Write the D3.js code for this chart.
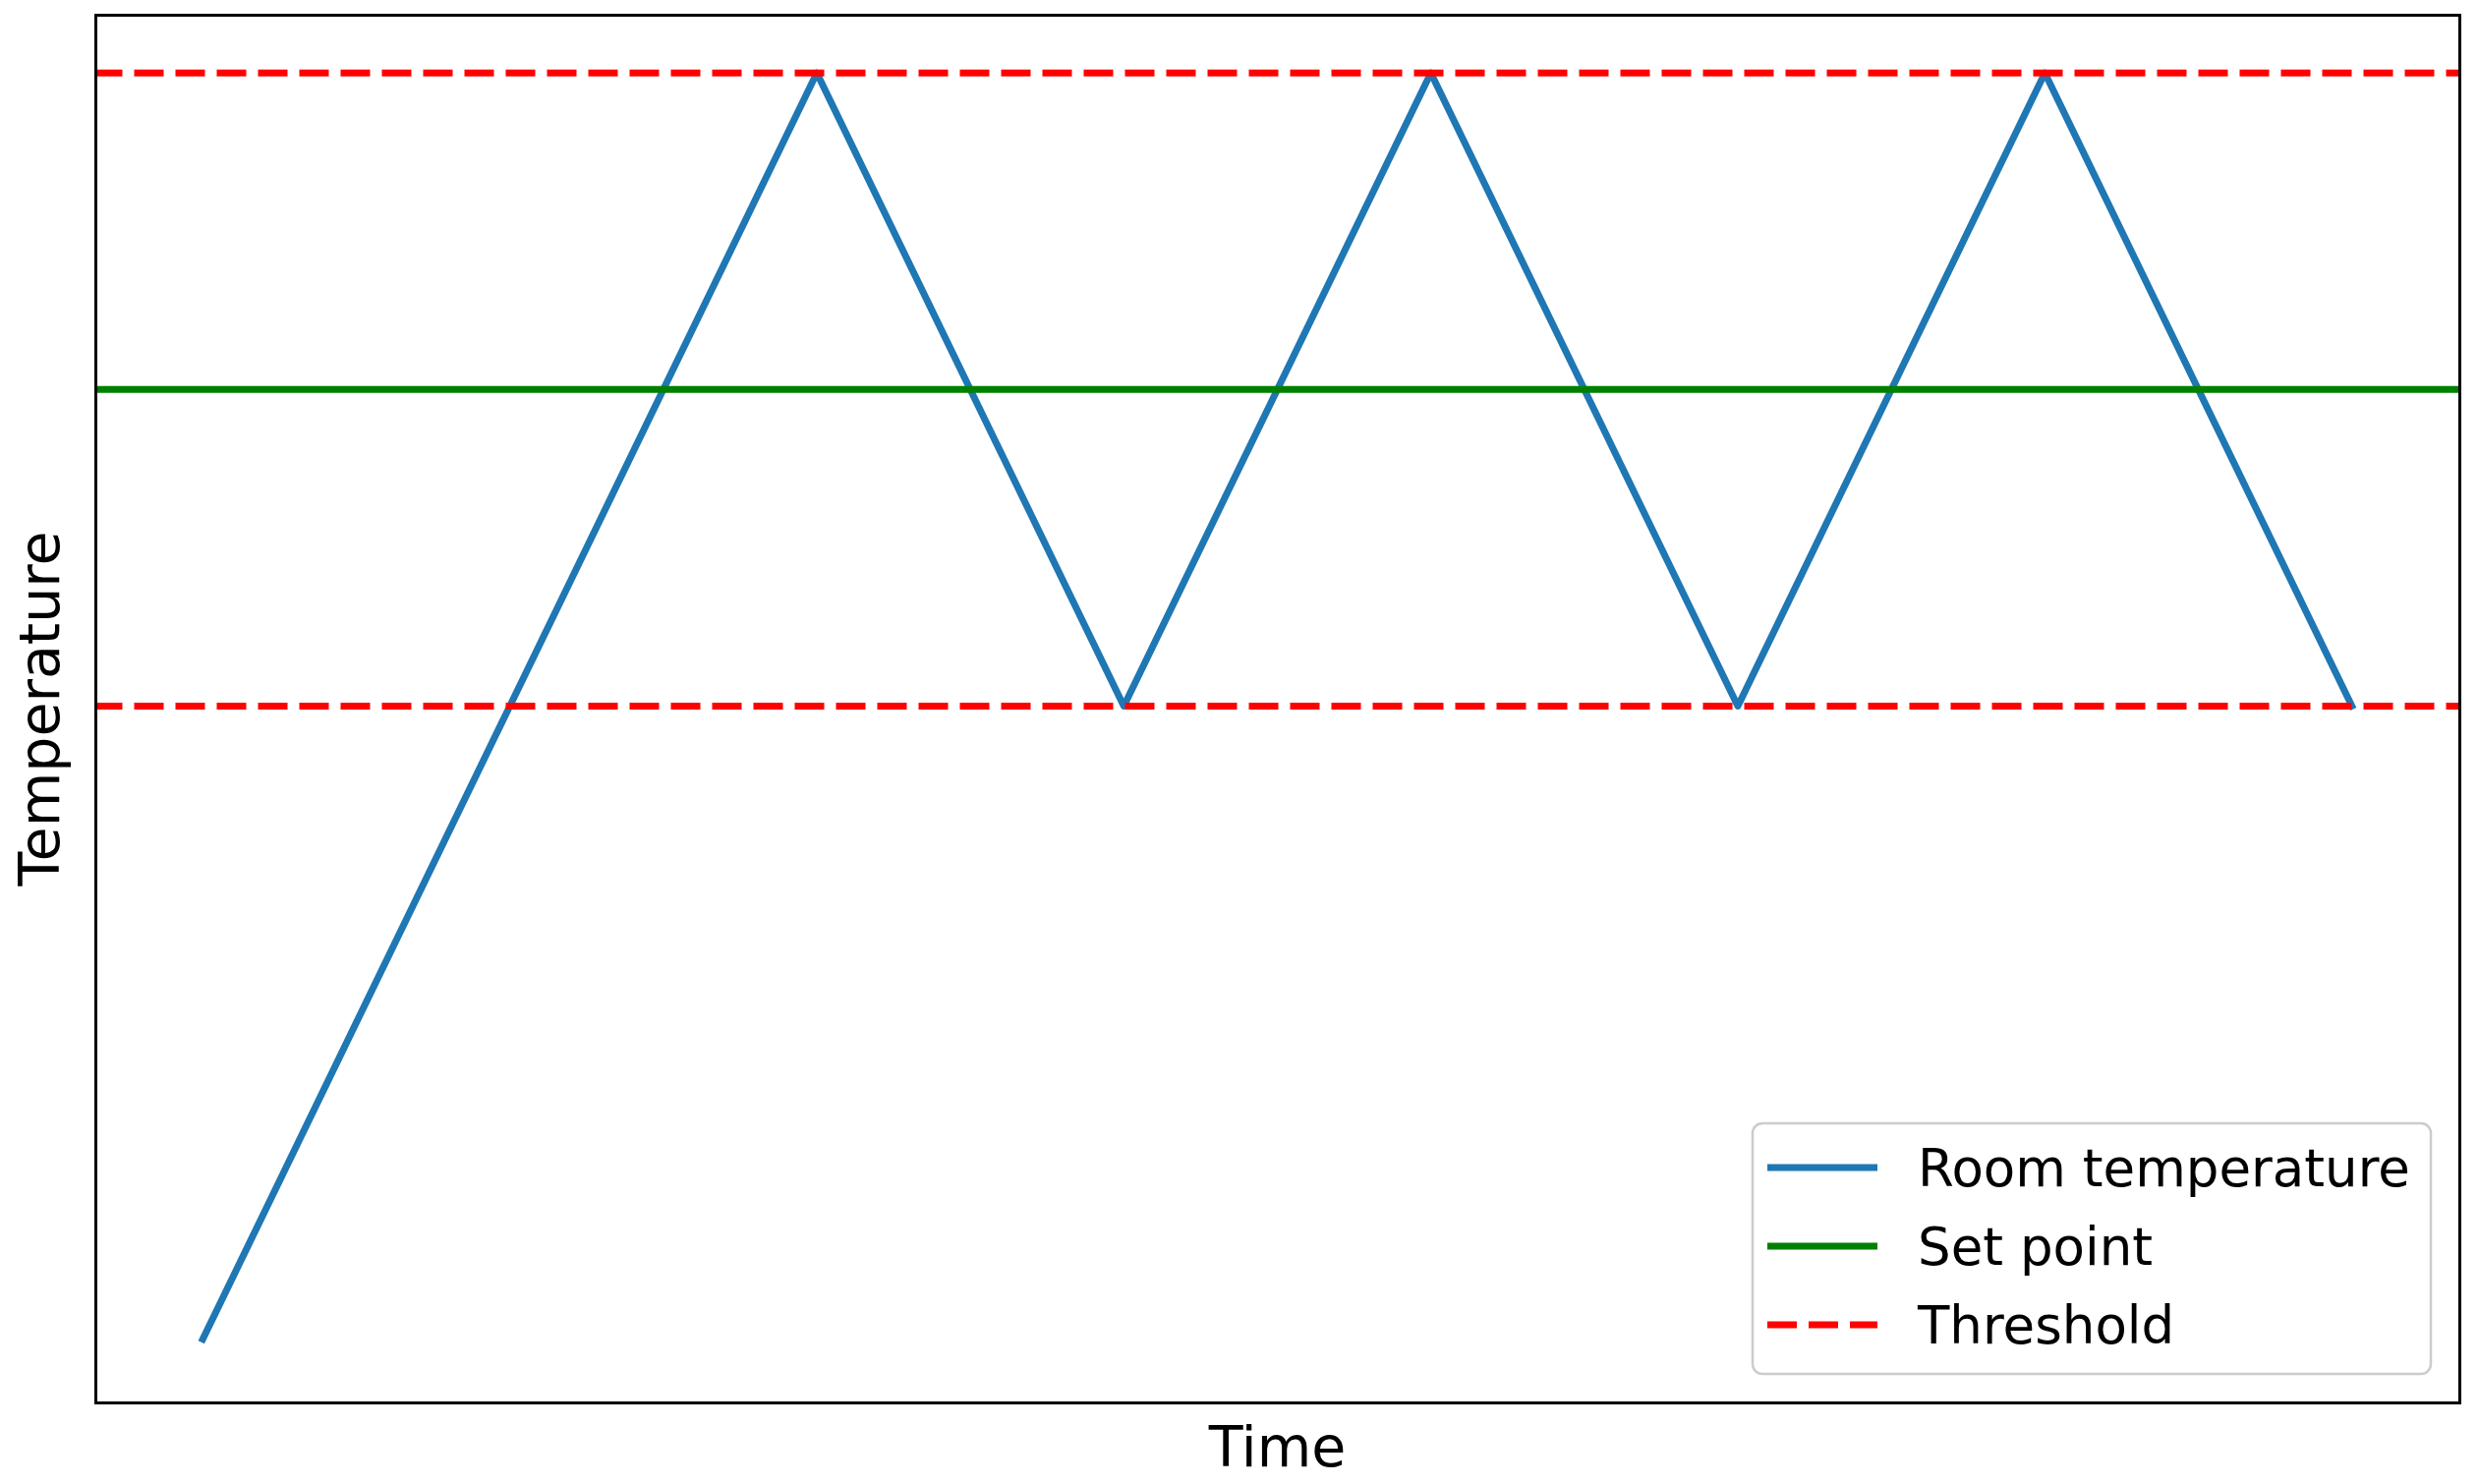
<!DOCTYPE html>
<html>
<head>
<meta charset="utf-8">
<script src="https://cdn.jsdelivr.net/npm/d3@7"></script>
<style>
  html, body { margin: 0; padding: 0; background: #ffffff; }
  svg { display: block; }
  text { font-family: "DejaVu Sans", sans-serif; fill: #000; }
</style>
</head>
<body>
<svg id="chart" width="2521" height="1510"></svg>
<script>
// ---- data ----
const times = [0, 2, 3, 4, 5, 6, 7];
const roomTemp = [15, 25, 20, 25, 20, 25, 20];
const setPoint = [22.5];
const thresholds = [20, 25];
const seriesLabels = ["Room temperature", "Set point", "Threshold"];
const xLabel = "Time";
const yLabel = "Temperature";

// ---- layout ----
const W = 2521, H = 1510;
const plot = { left: 97, right: 2502, top: 15, bottom: 1427 };
const colors = { room: "#1f77b4", set: "#008000", thr: "#ff0000" };
const lw = 7;
const dash = "30,12";

const svg = d3.select("#chart");

const x = d3.scaleLinear().domain([-0.35, 7.35]).range([plot.left, plot.right]);
const y = d3.scaleLinear().domain([14.5, 25.46]).range([plot.bottom, plot.top]);

const g = svg.append("g");

// threshold lines (axhline style across full width)
g.selectAll("line.thr").data(thresholds).enter().append("line")
  .attr("class", "thr")
  .attr("x1", plot.left).attr("x2", plot.right)
  .attr("y1", d => y(d)).attr("y2", d => y(d))
  .attr("stroke", colors.thr).attr("stroke-width", lw)
  .attr("stroke-dasharray", dash).attr("stroke-dashoffset", 2.5);

// set point
g.selectAll("line.sp").data(setPoint).enter().append("line")
  .attr("class", "sp")
  .attr("x1", plot.left).attr("x2", plot.right)
  .attr("y1", d => y(d)).attr("y2", d => y(d))
  .attr("stroke", colors.set).attr("stroke-width", lw);

// room temperature
const pts = times.map((t, i) => [t, roomTemp[i]]);
const line = d3.line().x(d => x(d[0])).y(d => y(d[1]));
g.append("path").datum(pts)
  .attr("d", line)
  .attr("fill", "none")
  .attr("stroke", colors.room)
  .attr("stroke-width", lw)
  .attr("stroke-linejoin", "round")
  .attr("stroke-linecap", "square");

// reorder: matplotlib draws in plot order: room temp, set point, thresholds
// (room first, then green, then red on top)
g.select("path").lower();

// axes (no ticks) + frame
const axisB = d3.axisBottom(x).tickValues([]).tickSizeOuter(0);
const axisL = d3.axisLeft(y).tickValues([]).tickSizeOuter(0);
const axisT = d3.axisTop(x).tickValues([]).tickSizeOuter(0);
const axisR = d3.axisRight(y).tickValues([]).tickSizeOuter(0);
[[axisB, `translate(0,${plot.bottom})`], [axisL, `translate(${plot.left},0)`],
 [axisT, `translate(0,${plot.top})`], [axisR, `translate(${plot.right},0)`]].forEach(([ax, tr]) => {
  const a = svg.append("g").attr("transform", tr).call(ax);
  a.select(".domain").attr("stroke", "#000").attr("stroke-width", 3).attr("stroke-linecap", "square");
});

// axis labels
svg.append("text")
  .attr("x", (plot.left + plot.right) / 2).attr("y", 1492)
  .attr("text-anchor", "middle").attr("font-size", 57)
  .text(xLabel);
svg.append("text")
  .attr("transform", `translate(60,${(plot.top + plot.bottom) / 2}) rotate(-90)`)
  .attr("text-anchor", "middle").attr("font-size", 57)
  .text(yLabel);

// legend
const leg = svg.append("g");
leg.append("rect")
  .attr("x", 1783).attr("y", 1143).attr("width", 690).attr("height", 255)
  .attr("rx", 10).attr("ry", 10)
  .attr("fill", "#ffffff").attr("fill-opacity", 0.8)
  .attr("stroke", "#cccccc").attr("stroke-width", 2.5);
const legStyles = [
  { color: colors.room, dash: null },
  { color: colors.set, dash: null },
  { color: colors.thr, dash: dash }
];
const rowY = d3.scalePoint().domain(seriesLabels).range([1188, 1348]);
const rows = leg.selectAll("g.row").data(seriesLabels).enter().append("g")
  .attr("class", "row")
  .attr("transform", d => `translate(0,${rowY(d)})`);
rows.append("line")
  .attr("x1", 1798).attr("x2", 1910).attr("y1", 0).attr("y2", 0)
  .attr("stroke", (d, i) => legStyles[i].color)
  .attr("stroke-width", lw)
  .attr("stroke-dasharray", (d, i) => legStyles[i].dash);
rows.append("text")
  .attr("x", 1951).attr("y", 19)
  .attr("font-size", 53)
  .text(d => d);
</script>
</body>
</html>
